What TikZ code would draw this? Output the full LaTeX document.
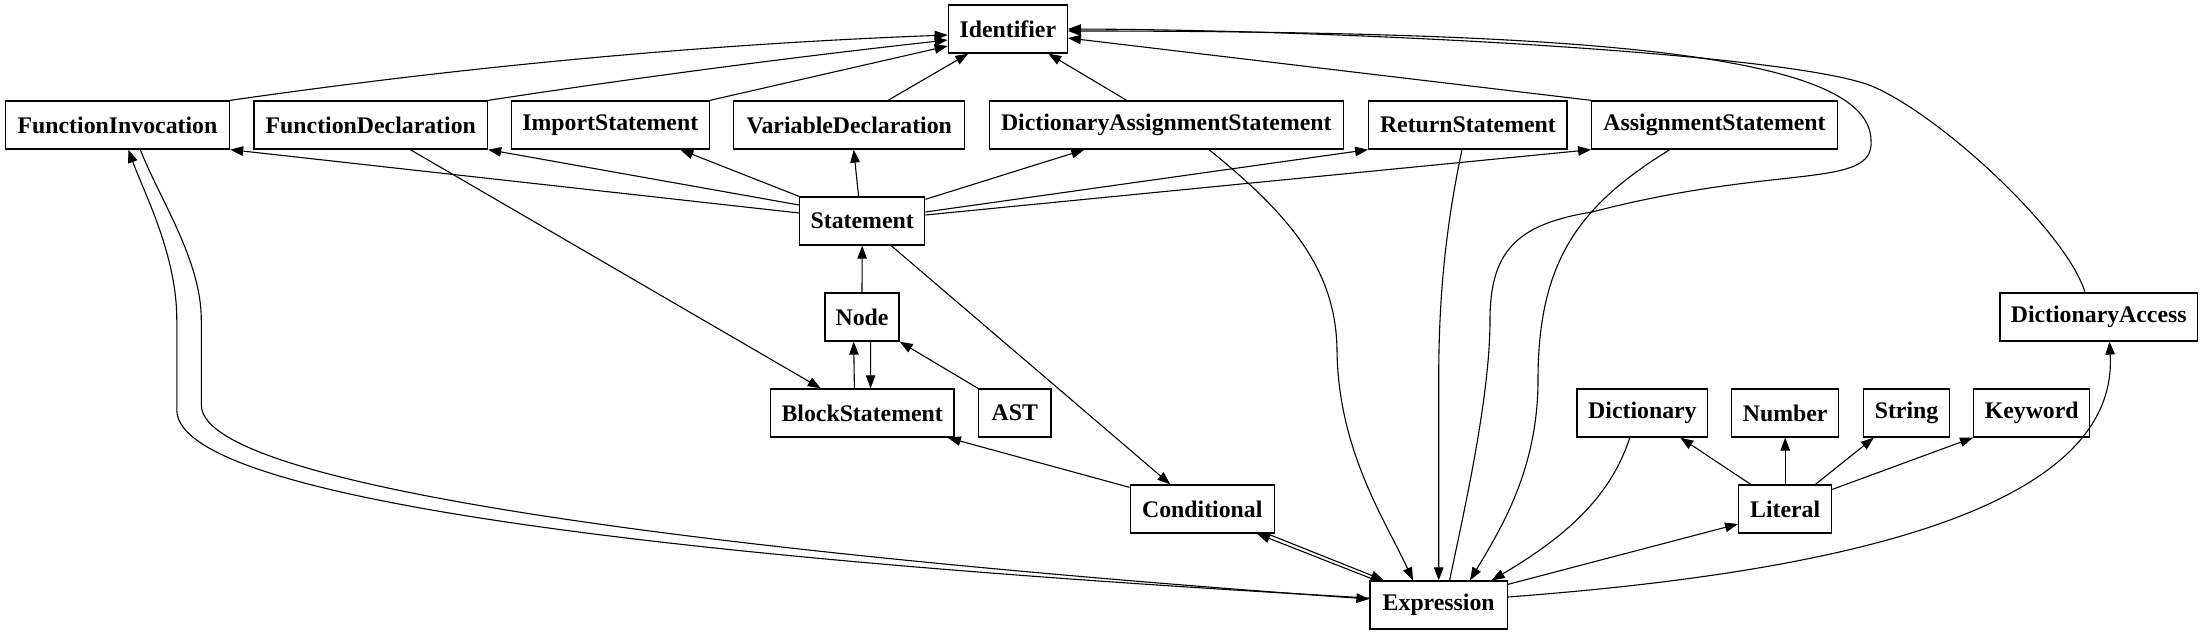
\documentclass[tikz,border=0pt]{standalone}
\usepackage{fontspec}
\setmainfont{Liberation Serif}
\usetikzlibrary{arrows.meta}
\begin{document}
\begin{tikzpicture}[x=1pt,y=-1pt,
  box/.style={draw, line width=1.3pt, rectangle, inner sep=0pt, minimum height=48pt,
    font=\fontsize{23.8}{28}\selectfont\bfseries, anchor=center},
  edge/.style={line width=1.1pt, -{Triangle[length=13pt,width=9.5pt]}}]
\useasboundingbox (0,0) rectangle (2203,635);
% nodes
\node[box, minimum width=119pt]   (Id)   at (1007.8,29)  {Identifier};
\node[box, minimum width=224pt]   (FI)   at (117.5,125)  {FunctionInvocation};
\node[box, minimum width=233.5pt] (FD)   at (370.8,125)  {FunctionDeclaration};
\node[box, minimum width=198pt]   (IS)   at (610.3,125)  {ImportStatement};
\node[box, minimum width=231pt]   (VD)   at (849.2,125)  {VariableDeclaration};
\node[box, minimum width=354pt]   (DAS)  at (1166.3,125) {DictionaryAssignmentStatement};
\node[box, minimum width=198.4pt] (RS)   at (1467.9,125) {ReturnStatement};
\node[box, minimum width=245.5pt] (AS)   at (1714.5,125) {AssignmentStatement};
\node[box, minimum width=125pt]   (St)   at (862.2,221)  {Statement};
\node[box, minimum width=74pt]    (Node) at (862,317)    {Node};
\node[box, minimum width=197.4pt] (DA)   at (2098.7,317) {DictionaryAccess};
\node[box, minimum width=183.7pt] (BS)   at (862.2,413)  {BlockStatement};
\node[box, minimum width=72.3pt]  (AST)  at (1014.8,413) {AST};
\node[box, minimum width=130.8pt] (Dict) at (1642.4,413) {Dictionary};
\node[box, minimum width=107pt]   (Num)  at (1785.2,413) {Number};
\node[box, minimum width=86.6pt]  (Str)  at (1906.5,413) {String};
\node[box, minimum width=116pt]   (Kw)   at (2031.7,413) {Keyword};
\node[box, minimum width=144.2pt] (Cond) at (1202.3,509) {Conditional};
\node[box, minimum width=93pt]    (Lit)  at (1785.2,509) {Literal};
\node[box, minimum width=137.3pt] (Expr) at (1438.7,605) {Expression};
% edges into Identifier
\draw[edge] (FI.north east) .. controls (469,66) and (708,44) .. ([yshift=-6pt]Id.west);
\draw[edge] (FD.north east) .. controls (641,77) and (794,57) .. ([yshift=-11pt]Id.west);
\draw[edge] (IS.north east) -- ([yshift=-17pt]Id.west);
\draw[edge] ([xshift=38.8pt]VD.north) -- ([xshift=-39.5pt]Id.south);
\draw[edge] ([xshift=-39.6pt]DAS.north) -- ([xshift=40.5pt]Id.south);
\draw[edge] (AS.north west) -- ([yshift=-9pt]Id.east);
\draw[edge] ([xshift=10.9pt]Expr.north) .. controls (1462,520) and (1490,400) .. (1490,320)
  .. controls (1490,250) and (1518,224) .. (1592,212)
  .. controls (1780,163) and (1875,190) .. (1871,140)
  .. controls (1869,55) and (1600,32) .. (1100,31) -- ([yshift=-2pt]Id.east);
\draw[edge] ([xshift=-13.7pt]DA.north) .. controls (2067,233) and (1944,118) .. (1874,87)
  .. controls (1800,54) and (1350,30) .. (Id.east);
% edges from Statement
\draw[edge] ([yshift=8pt]St.west) -- (FI.south east);
\draw[edge] ([yshift=16pt]St.west) -- (FD.south east);
\draw[edge] (St.north west) -- ([xshift=70pt]IS.south);
\draw[edge] ([xshift=-3.6pt]St.north) -- ([xshift=4.5pt]VD.south);
\draw[edge] ([yshift=-3pt]St.north east) -- ([xshift=-82pt]DAS.south);
\draw[edge] ([yshift=9pt]St.east) -- (RS.south west);
\draw[edge] ([yshift=6pt]St.east) -- (AS.south west);
\draw[edge] ([xshift=29pt]St.south) -- ([xshift=-32pt]Cond.north);
% Node / BlockStatement / AST
\draw[edge] (Node.north) -- (St.south);
\draw[edge] ([xshift=39.5pt]FD.south) -- ([xshift=-41.4pt]BS.north);
\draw[edge] ([xshift=-7.8pt]BS.north) -- ([xshift=-8.3pt]Node.south);
\draw[edge] ([xshift=8.6pt]Node.south) -- ([xshift=8.4pt]BS.north);
\draw[edge] (AST.north west) -- (Node.south east);
\draw[edge] ([yshift=-3pt]Cond.north west) -- ([xshift=-7pt]BS.south east);
% FunctionInvocation <-> Expression
\draw[edge] ([yshift=7pt]Expr.west) .. controls (800,566) and (176.8,510) .. (176.8,410)
  -- (176.8,320) .. controls (176.8,255) and (145,195) .. ([xshift=10.8pt]FI.south);
\draw[edge] ([xshift=22.8pt]FI.south) .. controls (160,200) and (201.3,260) .. (201.3,320)
  -- (201.3,405) .. controls (201.3,495) and (820,560) .. ([yshift=6pt]Expr.west);
% Conditional <-> Expression
\draw[edge] ([xshift=64.7pt]Cond.south) -- ([xshift=-54.7pt]Expr.north);
\draw[edge] ([xshift=-62.7pt]Expr.north) -- ([xshift=54.7pt]Cond.south);
% into Expression
\draw[edge] ([xshift=42.7pt]DAS.south) .. controls (1290,215) and (1336,270) .. (1337,350)
  .. controls (1338,450) and (1385,520) .. ([xshift=-25.7pt]Expr.north);
\draw[edge] ([xshift=-5.9pt]RS.south) .. controls (1445,230) and (1438.7,300) .. (1438.7,380) -- (Expr.north);
\draw[edge] ([xshift=-44.7pt]AS.south) .. controls (1580,205) and (1538,260) .. (1538,380)
  .. controls (1538,470) and (1500,530) .. ([xshift=31.3pt]Expr.north);
\draw[edge] ([xshift=-12.7pt]Dict.south) .. controls (1610,500) and (1560,540) .. ([xshift=53pt]Expr.north);
% from Expression
\draw[edge] ([yshift=-4pt]Expr.north east) -- ([yshift=-15pt]Lit.west);
\draw[edge] ([yshift=8pt]Expr.east) .. controls (1800,575) and (2120,520) .. ([xshift=10.7pt]DA.south);
% Literal
\draw[edge] ([xshift=-34.5pt]Lit.north) -- ([xshift=37.9pt]Dict.south);
\draw[edge] (Lit.north) -- (Num.south);
\draw[edge] ([xshift=30.2pt]Lit.north) -- ([xshift=-32.7pt]Str.south);
\draw[edge] ([yshift=-5pt]Lit.north east) -- (Kw.south west);
\end{tikzpicture}
\end{document}
